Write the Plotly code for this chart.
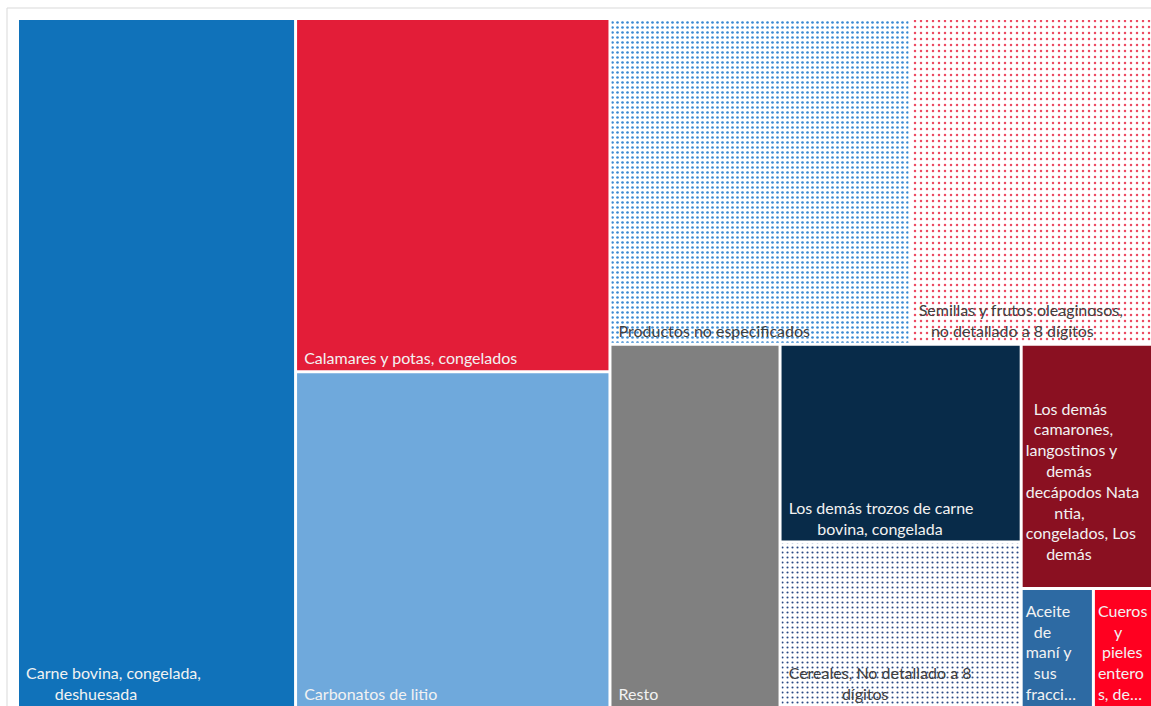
import plotly.graph_objects as go

# Productos (participación %)
productos = [
    "Carne bovina, congelada, deshuesada",
    "Calamares y potas, congelados",
    "Carbonatos de litio",
    "Productos no especificados",
    "Semillas y frutos oleaginosos, no detallado a 8 dígitos",
    "Resto",
    "Los demás trozos de carne bovina, congelada",
    "Cereales, No detallado a 8 dígitos",
    "Los demás camarones, langostinos y demás decápodos Natantia, congelados, Los demás",
    "Aceite de maní y sus fracciones",
    "Cueros y pieles enteros, de bovino",
]
participacion = [24.5, 14.2, 13.5, 12.5, 10.1, 7.9, 6.1, 5.1, 4.1, 1.1, 0.9]

# etiquetas tal como aparecen en las celdas
etiquetas = [
    " Carne bovina, congelada,<br>        deshuesada",
    " Calamares y potas, congelados",
    " Carbonatos de litio",
    " Productos no especificados",
    " Semillas y frutos oleaginosos,<br>    no detallado a 8 dígitos",
    " Resto",
    " Los demás trozos de carne<br>        bovina, congelada",
    " Cereales, No detallado a 8<br>              dígitos",
    "  Los demás<br>  camarones,<br>langostinos y<br>     demás<br>decápodos Nata<br>       ntia,<br>congelados, Los<br>     demás<br> ",
    "Aceite<br>  de<br>maní y<br>  sus<br>fracci…",
    "Cueros<br>    y<br> pieles<br>entero<br>s, de…",
]

# grupos ocultos solo para reproducir la disposición de las celdas
grupo_ids = ["g_izq", "g_der", "g_arr", "g_abj", "g_med", "g_cam", "g_peq"]
grupo_padres = ["", "", "g_der", "g_der", "g_abj", "g_abj", "g_cam"]

ids_hojas = ["p%d" % i for i in range(len(productos))]
padres_hojas = ["", "g_izq", "g_izq", "g_arr", "g_arr", "g_abj",
                "g_med", "g_med", "g_cam", "g_peq", "g_peq"]

colores = ["#1072BA", "#E31D38", "#6FA9DC", "white", "white", "#808080",
           "#082B49", "white", "#8A1021", "#2D6AA3", "#FF0020"]
patron = ["", "", "", ".", ".", "", "", ".", "", "", ""]
patron_color = ["#1072BA", "#E31D38", "#6FA9DC", "#3A8AD3", "#EC4A62", "#808080",
                "#082B49", "#2A4A85", "#8A1021", "#2D6AA3", "#FF0020"]
patron_tam = [6, 6, 6, 5, 6, 6, 6, 5, 6, 6, 6]
patron_sol = [0.3, 0.3, 0.3, 0.22, 0.14, 0.3, 0.3, 0.14, 0.3, 0.3, 0.3]
color_texto = ["#F2F2F2", "#F2F2F2", "#F2F2F2", "#404040", "#404040", "#F2F2F2",
               "#F2F2F2", "#404040", "#F2F2F2", "#F2F2F2", "#F2F2F2"]

# orden: raíz -> [Carne, g_izq, g_der]
ids = [ids_hojas[0], "g_izq", ids_hojas[1], ids_hojas[2], "g_der",
       "g_arr", ids_hojas[3], ids_hojas[4],
       "g_abj", ids_hojas[5], "g_med", ids_hojas[6], ids_hojas[7],
       "g_cam", ids_hojas[8], "g_peq", ids_hojas[9], ids_hojas[10]]

padre_de = dict(zip(ids_hojas, padres_hojas))
padre_de.update(dict(zip(grupo_ids, grupo_padres)))
idx = {h: i for i, h in enumerate(ids_hojas)}

labels, parents, values, texts = [], [], [], []
mcol, pshape, pcol, psize, psol, tcol = [], [], [], [], [], []
for n in ids:
    parents.append(padre_de[n])
    if n in idx:
        i = idx[n]
        labels.append(productos[i])
        values.append(participacion[i])
        texts.append(etiquetas[i])
        mcol.append(colores[i])
        pshape.append(patron[i])
        pcol.append(patron_color[i])
        psize.append(patron_tam[i])
        psol.append(patron_sol[i])
        tcol.append(color_texto[i])
    else:
        labels.append("")
        values.append(0)
        texts.append("")
        mcol.append("white")
        pshape.append("")
        pcol.append("white")
        psize.append(6)
        psol.append(0.3)
        tcol.append("white")

fig = go.Figure(go.Treemap(
    ids=ids,
    labels=labels,
    parents=parents,
    values=values,
    text=texts,
    texttemplate="%{text}",
    textposition="bottom left",
    textfont=dict(family="Lato", size=16, color=tcol),
    hovertemplate="%{label}: %{value}%<extra></extra>",
    branchvalues="remainder",
    sort=False,
    marker=dict(
        colors=mcol,
        line=dict(width=0),
        pad=dict(t=0, l=0, r=0, b=0),
        pattern=dict(shape=pshape, fgcolor=pcol, bgcolor="white",
                     size=psize, solidity=psol),
    ),
    tiling=dict(packing="slice-dice", pad=3),
    pathbar=dict(visible=False),
    root=dict(color="white"),
))

# marco gris alrededor del gráfico
fig.add_shape(type="rect", xref="paper", yref="paper",
              x0=-12 / 1132, x1=1.05, y0=-0.05, y1=1 + 12 / 686,
              line=dict(color="#D9D9D9", width=1), fillcolor="rgba(0,0,0,0)")

fig.update_layout(
    width=1151, height=706,
    margin=dict(l=19, r=0, t=20, b=0),
    paper_bgcolor="white",
    showlegend=False,
)

# sin margen en el cuerpo de la página, para que el gráfico ocupe toda la ventana
fig.write_html("out.html",
               config={"displayModeBar": False},
               post_script="document.body.style.margin='0';"
                           "document.body.style.overflow='hidden';")
